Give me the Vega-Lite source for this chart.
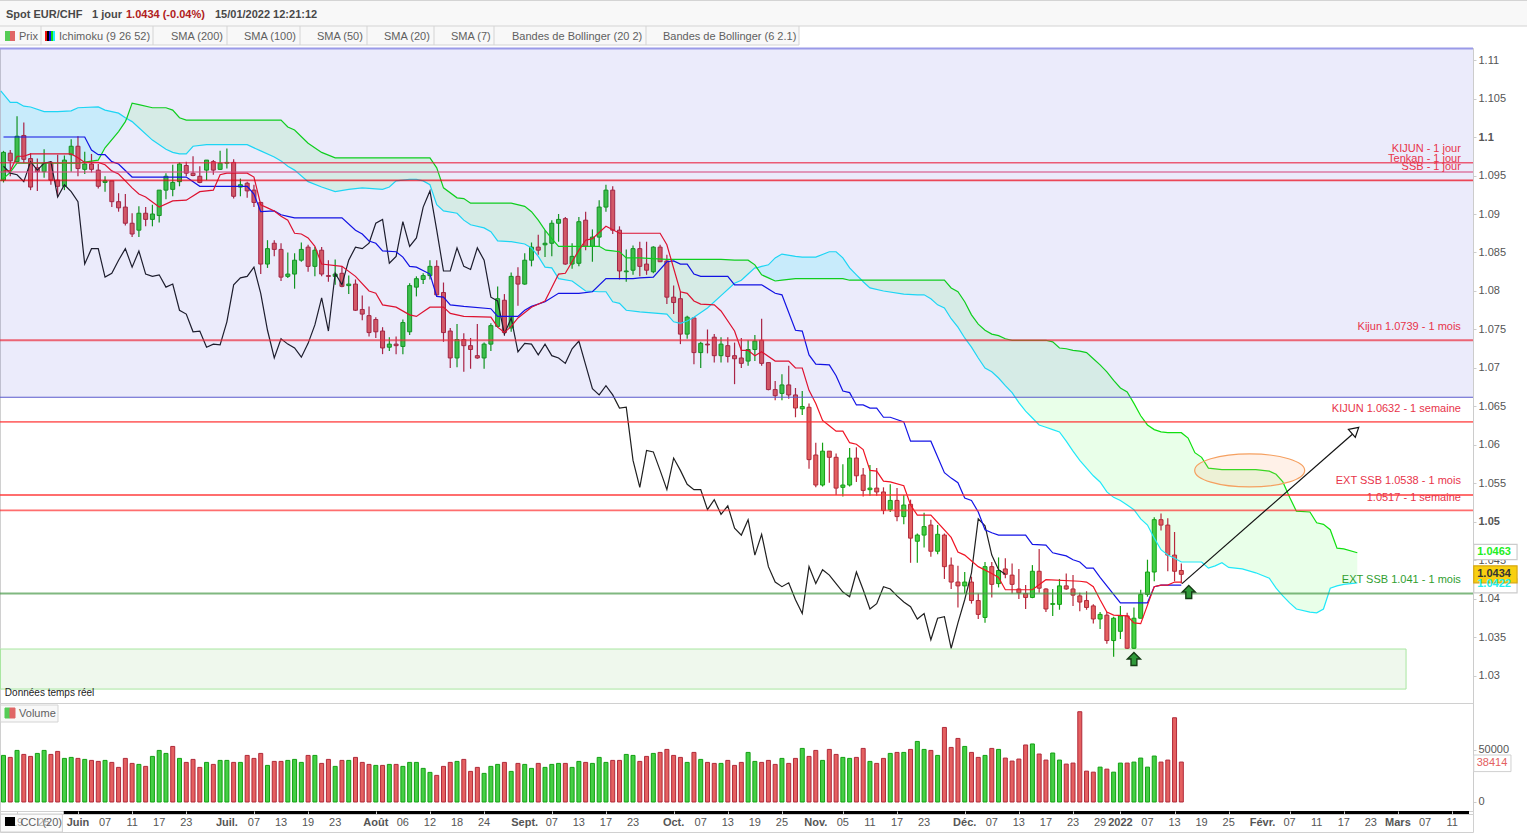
{
"$schema":"https://vega.github.io/schema/vega-lite/v6.json",
"background":"white",
"padding":{"left":-3,"top":0,"right":0,"bottom":0},
"autosize":{"type":"pad"},
"spacing":0,
"bounds":"flush",
"config":{"view":{"stroke":"#d0d0d0"},"font":"Liberation Sans","scale":{"continuousPadding":0}},
"datasets":{
"candles":[
{"bar":0,"open":1.0944,"high":1.0982,"low":1.0941,"close":1.098,"volume":44800,"volDir":"u","chikou":1.0962},
{"bar":1,"open":1.0979,"high":1.0983,"low":1.0949,"close":1.0969,"volume":42880,"volDir":"d","chikou":1.0953},
{"bar":2,"open":1.0968,"high":1.1027,"low":1.0967,"close":1.1001,"volume":49600,"volDir":"u","chikou":1.0951},
{"bar":3,"open":1.1002,"high":1.1019,"low":1.0966,"close":1.0971,"volume":45760,"volDir":"d","chikou":1.0942},
{"bar":4,"open":1.0972,"high":1.0979,"low":1.0931,"close":1.0935,"volume":43840,"volDir":"d","chikou":1.0968},
{"bar":5,"open":1.096,"high":1.0972,"low":1.093,"close":1.0955,"volume":46720,"volDir":"u","chikou":1.0957},
{"bar":6,"open":1.0955,"high":1.0984,"low":1.0947,"close":1.0966,"volume":49600,"volDir":"u","chikou":1.0966},
{"bar":7,"open":1.0967,"high":1.0969,"low":1.0938,"close":1.0944,"volume":45760,"volDir":"d","chikou":1.0968},
{"bar":8,"open":1.0944,"high":1.0977,"low":1.0922,"close":1.0936,"volume":48640,"volDir":"d","chikou":1.0922},
{"bar":9,"open":1.0936,"high":1.0976,"low":1.0931,"close":1.097,"volume":41920,"volDir":"u","chikou":1.0938},
{"bar":10,"open":1.0977,"high":1.0997,"low":1.0955,"close":1.0988,"volume":42880,"volDir":"u","chikou":1.0929},
{"bar":11,"open":1.0988,"high":1.1001,"low":1.0949,"close":1.0959,"volume":41920,"volDir":"d","chikou":1.0916},
{"bar":12,"open":1.0958,"high":1.0981,"low":1.0952,"close":1.0965,"volume":40960,"volDir":"u","chikou":1.0835},
{"bar":13,"open":1.0965,"high":1.0978,"low":1.0954,"close":1.0958,"volume":40000,"volDir":"d","chikou":1.0855},
{"bar":14,"open":1.0957,"high":1.0965,"low":1.0933,"close":1.0936,"volume":39040,"volDir":"d","chikou":1.0855},
{"bar":15,"open":1.0941,"high":1.0949,"low":1.0929,"close":1.0943,"volume":40000,"volDir":"u","chikou":1.0818},
{"bar":16,"open":1.0943,"high":1.0943,"low":1.0909,"close":1.0916,"volume":38080,"volDir":"d","chikou":1.0823},
{"bar":17,"open":1.0916,"high":1.0927,"low":1.0903,"close":1.0908,"volume":33280,"volDir":"d","chikou":1.084},
{"bar":18,"open":1.0909,"high":1.0926,"low":1.0885,"close":1.0888,"volume":41920,"volDir":"d","chikou":1.0855},
{"bar":19,"open":1.0888,"high":1.0901,"low":1.087,"close":1.0874,"volume":37120,"volDir":"d","chikou":1.0831},
{"bar":20,"open":1.0879,"high":1.091,"low":1.087,"close":1.0901,"volume":36160,"volDir":"u","chikou":1.0852},
{"bar":21,"open":1.0901,"high":1.0909,"low":1.0884,"close":1.0893,"volume":34240,"volDir":"d","chikou":1.0822},
{"bar":22,"open":1.0893,"high":1.0912,"low":1.0884,"close":1.09,"volume":43840,"volDir":"u","chikou":1.0819},
{"bar":23,"open":1.0898,"high":1.0931,"low":1.0889,"close":1.0931,"volume":49600,"volDir":"u","chikou":1.0821},
{"bar":24,"open":1.0931,"high":1.0953,"low":1.0919,"close":1.0949,"volume":46720,"volDir":"u","chikou":1.0805},
{"bar":25,"open":1.0932,"high":1.0964,"low":1.0923,"close":1.0941,"volume":53440,"volDir":"d","chikou":1.0809},
{"bar":26,"open":1.0942,"high":1.0967,"low":1.0936,"close":1.0965,"volume":41920,"volDir":"u","chikou":1.0775},
{"bar":27,"open":1.0963,"high":1.0968,"low":1.0949,"close":1.0953,"volume":38080,"volDir":"d","chikou":1.077},
{"bar":28,"open":1.0953,"high":1.0975,"low":1.0949,"close":1.095,"volume":40960,"volDir":"d","chikou":1.0747},
{"bar":29,"open":1.0949,"high":1.0962,"low":1.094,"close":1.0941,"volume":33280,"volDir":"d","chikou":1.0748},
{"bar":30,"open":1.0957,"high":1.097,"low":1.0944,"close":1.097,"volume":38080,"volDir":"u","chikou":1.0727},
{"bar":31,"open":1.0968,"high":1.097,"low":1.0951,"close":1.0957,"volume":36160,"volDir":"d","chikou":1.0731},
{"bar":32,"open":1.0958,"high":1.0982,"low":1.0957,"close":1.0966,"volume":40000,"volDir":"u","chikou":1.073},
{"bar":33,"open":1.0966,"high":1.0985,"low":1.0959,"close":1.0967,"volume":40000,"volDir":"u","chikou":1.076},
{"bar":34,"open":1.0967,"high":1.0971,"low":1.092,"close":1.0923,"volume":38080,"volDir":"d","chikou":1.0808},
{"bar":35,"open":1.0935,"high":1.0946,"low":1.0923,"close":1.0938,"volume":38080,"volDir":"u","chikou":1.0817},
{"bar":36,"open":1.094,"high":1.0942,"low":1.0921,"close":1.093,"volume":44800,"volDir":"d","chikou":1.0819},
{"bar":37,"open":1.0931,"high":1.0938,"low":1.0909,"close":1.0915,"volume":41920,"volDir":"d","chikou":1.0831},
{"bar":38,"open":1.0915,"high":1.0916,"low":1.0822,"close":1.0835,"volume":46720,"volDir":"d","chikou":1.0797},
{"bar":39,"open":1.0835,"high":1.0866,"low":1.083,"close":1.0855,"volume":35200,"volDir":"u","chikou":1.0749},
{"bar":40,"open":1.0862,"high":1.0866,"low":1.0845,"close":1.0854,"volume":39040,"volDir":"d","chikou":1.0713},
{"bar":41,"open":1.0854,"high":1.0862,"low":1.0813,"close":1.0818,"volume":39040,"volDir":"d","chikou":1.0738},
{"bar":42,"open":1.0819,"high":1.085,"low":1.0817,"close":1.0822,"volume":40000,"volDir":"u","chikou":1.0731},
{"bar":43,"open":1.0822,"high":1.0849,"low":1.0803,"close":1.084,"volume":40960,"volDir":"u","chikou":1.0726},
{"bar":44,"open":1.084,"high":1.0863,"low":1.0838,"close":1.0854,"volume":38080,"volDir":"u","chikou":1.0714},
{"bar":45,"open":1.0857,"high":1.086,"low":1.0825,"close":1.0832,"volume":44800,"volDir":"d","chikou":1.0732},
{"bar":46,"open":1.0832,"high":1.0857,"low":1.0819,"close":1.0853,"volume":44800,"volDir":"u","chikou":1.0756},
{"bar":47,"open":1.0853,"high":1.0857,"low":1.0819,"close":1.0822,"volume":37120,"volDir":"d","chikou":1.0791},
{"bar":48,"open":1.082,"high":1.084,"low":1.0812,"close":1.0819,"volume":40960,"volDir":"d","chikou":1.0748},
{"bar":49,"open":1.0819,"high":1.0841,"low":1.0808,"close":1.0822,"volume":34240,"volDir":"u","chikou":1.0823},
{"bar":50,"open":1.0823,"high":1.0832,"low":1.0805,"close":1.0806,"volume":40000,"volDir":"d","chikou":1.0808},
{"bar":51,"open":1.0807,"high":1.082,"low":1.0796,"close":1.0809,"volume":40000,"volDir":"u","chikou":1.084},
{"bar":52,"open":1.0809,"high":1.0815,"low":1.0774,"close":1.0775,"volume":42880,"volDir":"d","chikou":1.0857},
{"bar":53,"open":1.0776,"high":1.0794,"low":1.0762,"close":1.077,"volume":38080,"volDir":"d","chikou":1.0855},
{"bar":54,"open":1.0768,"high":1.078,"low":1.0741,"close":1.0746,"volume":36160,"volDir":"d","chikou":1.0862},
{"bar":55,"open":1.0763,"high":1.0766,"low":1.0739,"close":1.0747,"volume":35200,"volDir":"u","chikou":1.0888},
{"bar":56,"open":1.0748,"high":1.0753,"low":1.0718,"close":1.0726,"volume":35200,"volDir":"d","chikou":1.0893},
{"bar":57,"open":1.0727,"high":1.074,"low":1.0722,"close":1.0731,"volume":36160,"volDir":"u","chikou":1.0836},
{"bar":58,"open":1.0731,"high":1.0741,"low":1.0718,"close":1.0729,"volume":36160,"volDir":"d","chikou":1.0845},
{"bar":59,"open":1.0728,"high":1.0763,"low":1.0718,"close":1.0759,"volume":34240,"volDir":"u","chikou":1.089},
{"bar":60,"open":1.0747,"high":1.081,"low":1.0743,"close":1.0807,"volume":38080,"volDir":"u","chikou":1.0858},
{"bar":61,"open":1.0805,"high":1.0819,"low":1.0793,"close":1.0816,"volume":38080,"volDir":"u","chikou":1.0869},
{"bar":62,"open":1.0815,"high":1.0823,"low":1.0809,"close":1.082,"volume":32320,"volDir":"u","chikou":1.0909},
{"bar":63,"open":1.082,"high":1.084,"low":1.0815,"close":1.0832,"volume":28480,"volDir":"u","chikou":1.093},
{"bar":64,"open":1.0832,"high":1.084,"low":1.0793,"close":1.0795,"volume":25600,"volDir":"d","chikou":1.0879},
{"bar":65,"open":1.0798,"high":1.0811,"low":1.0734,"close":1.0746,"volume":34240,"volDir":"d","chikou":1.0826},
{"bar":66,"open":1.0748,"high":1.0752,"low":1.07,"close":1.0713,"volume":38080,"volDir":"d","chikou":1.0826},
{"bar":67,"open":1.0713,"high":1.0757,"low":1.0701,"close":1.0737,"volume":39040,"volDir":"u","chikou":1.0856},
{"bar":68,"open":1.0737,"high":1.0745,"low":1.0695,"close":1.0729,"volume":40960,"volDir":"d","chikou":1.0832},
{"bar":69,"open":1.0729,"high":1.0739,"low":1.0699,"close":1.0724,"volume":29440,"volDir":"d","chikou":1.0828},
{"bar":70,"open":1.0716,"high":1.0757,"low":1.0712,"close":1.0713,"volume":33280,"volDir":"d","chikou":1.0856},
{"bar":71,"open":1.0713,"high":1.0733,"low":1.0699,"close":1.0731,"volume":27520,"volDir":"u","chikou":1.084},
{"bar":72,"open":1.0731,"high":1.0758,"low":1.0722,"close":1.0755,"volume":34240,"volDir":"u","chikou":1.0792},
{"bar":73,"open":1.0754,"high":1.0806,"low":1.0753,"close":1.079,"volume":36160,"volDir":"u","chikou":1.0787},
{"bar":74,"open":1.0788,"high":1.0796,"low":1.0742,"close":1.0746,"volume":38080,"volDir":"d","chikou":1.0744},
{"bar":75,"open":1.0752,"high":1.0824,"low":1.0747,"close":1.0819,"volume":29440,"volDir":"u","chikou":1.0765},
{"bar":76,"open":1.0819,"high":1.0831,"low":1.0781,"close":1.0809,"volume":37120,"volDir":"d","chikou":1.0721},
{"bar":77,"open":1.0809,"high":1.0849,"low":1.0808,"close":1.084,"volume":36160,"volDir":"u","chikou":1.0732},
{"bar":78,"open":1.084,"high":1.0863,"low":1.0832,"close":1.0857,"volume":32320,"volDir":"u","chikou":1.0731},
{"bar":79,"open":1.0857,"high":1.0873,"low":1.0847,"close":1.0853,"volume":37120,"volDir":"d","chikou":1.0717},
{"bar":80,"open":1.086,"high":1.0879,"low":1.0844,"close":1.0862,"volume":33280,"volDir":"u","chikou":1.0731},
{"bar":81,"open":1.0862,"high":1.0892,"low":1.0845,"close":1.0888,"volume":36160,"volDir":"u","chikou":1.0716},
{"bar":82,"open":1.0888,"high":1.09,"low":1.0864,"close":1.0893,"volume":37120,"volDir":"u","chikou":1.0713},
{"bar":83,"open":1.0894,"high":1.0896,"low":1.0834,"close":1.0835,"volume":37120,"volDir":"d","chikou":1.0706},
{"bar":84,"open":1.0835,"high":1.0862,"low":1.0829,"close":1.0845,"volume":33280,"volDir":"u","chikou":1.0725},
{"bar":85,"open":1.0836,"high":1.0896,"low":1.0832,"close":1.089,"volume":39040,"volDir":"u","chikou":1.0735},
{"bar":86,"open":1.0892,"high":1.0903,"low":1.0853,"close":1.0858,"volume":38080,"volDir":"d","chikou":1.0704},
{"bar":87,"open":1.0858,"high":1.088,"low":1.0838,"close":1.087,"volume":37120,"volDir":"u","chikou":1.0673},
{"bar":88,"open":1.087,"high":1.0918,"low":1.0858,"close":1.0909,"volume":42880,"volDir":"u","chikou":1.0665},
{"bar":89,"open":1.0909,"high":1.0938,"low":1.0903,"close":1.0931,"volume":38080,"volDir":"u","chikou":1.0677},
{"bar":90,"open":1.0931,"high":1.0936,"low":1.0874,"close":1.0879,"volume":40000,"volDir":"d","chikou":1.0665},
{"bar":91,"open":1.0879,"high":1.0884,"low":1.0815,"close":1.0826,"volume":40000,"volDir":"d","chikou":1.0648},
{"bar":92,"open":1.0825,"high":1.0854,"low":1.0812,"close":1.0826,"volume":45760,"volDir":"u","chikou":1.0649},
{"bar":93,"open":1.0827,"high":1.0859,"low":1.0821,"close":1.0855,"volume":44800,"volDir":"u","chikou":1.058},
{"bar":94,"open":1.0855,"high":1.0864,"low":1.0819,"close":1.0832,"volume":39040,"volDir":"d","chikou":1.0545},
{"bar":95,"open":1.0835,"high":1.0864,"low":1.0821,"close":1.0827,"volume":43840,"volDir":"d","chikou":1.0593},
{"bar":96,"open":1.0825,"high":1.0858,"low":1.0823,"close":1.0857,"volume":46720,"volDir":"u","chikou":1.0591},
{"bar":97,"open":1.0857,"high":1.086,"low":1.0838,"close":1.0838,"volume":47680,"volDir":"d","chikou":1.0567},
{"bar":98,"open":1.0839,"high":1.0847,"low":1.0783,"close":1.0792,"volume":50560,"volDir":"d","chikou":1.0542},
{"bar":99,"open":1.0792,"high":1.0807,"low":1.077,"close":1.0785,"volume":44800,"volDir":"d","chikou":1.0583},
{"bar":100,"open":1.079,"high":1.0799,"low":1.0731,"close":1.0744,"volume":42880,"volDir":"d","chikou":1.0567},
{"bar":101,"open":1.0744,"high":1.0768,"low":1.0738,"close":1.0766,"volume":38080,"volDir":"u","chikou":1.0549},
{"bar":102,"open":1.0765,"high":1.0766,"low":1.0705,"close":1.072,"volume":47680,"volDir":"d","chikou":1.0542},
{"bar":103,"open":1.072,"high":1.0734,"low":1.07,"close":1.0732,"volume":40960,"volDir":"u","chikou":1.0542},
{"bar":104,"open":1.0731,"high":1.075,"low":1.0719,"close":1.073,"volume":38080,"volDir":"d","chikou":1.0516},
{"bar":105,"open":1.074,"high":1.0744,"low":1.0707,"close":1.0716,"volume":37120,"volDir":"d","chikou":1.0529},
{"bar":106,"open":1.0716,"high":1.074,"low":1.0707,"close":1.0731,"volume":37120,"volDir":"u","chikou":1.051},
{"bar":107,"open":1.0729,"high":1.074,"low":1.0707,"close":1.0715,"volume":40000,"volDir":"d","chikou":1.0521},
{"bar":108,"open":1.0716,"high":1.0733,"low":1.0679,"close":1.0712,"volume":35200,"volDir":"d","chikou":1.0492},
{"bar":109,"open":1.0713,"high":1.0739,"low":1.07,"close":1.0706,"volume":38080,"volDir":"d","chikou":1.0483},
{"bar":110,"open":1.0709,"high":1.0736,"low":1.0703,"close":1.0724,"volume":47680,"volDir":"u","chikou":1.0503},
{"bar":111,"open":1.0724,"high":1.0743,"low":1.0709,"close":1.0735,"volume":39040,"volDir":"u","chikou":1.0457},
{"bar":112,"open":1.0736,"high":1.0764,"low":1.0703,"close":1.0706,"volume":38080,"volDir":"d","chikou":1.0484},
{"bar":113,"open":1.0707,"high":1.0707,"low":1.0671,"close":1.0672,"volume":40000,"volDir":"d","chikou":1.0442},
{"bar":114,"open":1.0672,"high":1.0683,"low":1.0658,"close":1.0664,"volume":36160,"volDir":"d","chikou":1.0422},
{"bar":115,"open":1.0667,"high":1.0692,"low":1.0658,"close":1.0678,"volume":41920,"volDir":"u","chikou":1.0416},
{"bar":116,"open":1.0678,"high":1.0703,"low":1.066,"close":1.0665,"volume":37120,"volDir":"d","chikou":1.0421},
{"bar":117,"open":1.0665,"high":1.0674,"low":1.0636,"close":1.0648,"volume":41920,"volDir":"d","chikou":1.0399},
{"bar":118,"open":1.0647,"high":1.067,"low":1.0639,"close":1.065,"volume":51520,"volDir":"u","chikou":1.0381},
{"bar":119,"open":1.0649,"high":1.0654,"low":1.0569,"close":1.0581,"volume":43840,"volDir":"d","chikou":1.0442},
{"bar":120,"open":1.0587,"high":1.0603,"low":1.0545,"close":1.0548,"volume":49600,"volDir":"d","chikou":1.042},
{"bar":121,"open":1.0548,"high":1.0603,"low":1.0546,"close":1.0592,"volume":40000,"volDir":"u","chikou":1.0438},
{"bar":122,"open":1.0592,"high":1.0592,"low":1.0551,"close":1.0584,"volume":50560,"volDir":"d","chikou":1.0431},
{"bar":123,"open":1.0584,"high":1.0589,"low":1.0535,"close":1.0544,"volume":45760,"volDir":"d","chikou":1.042},
{"bar":124,"open":1.0545,"high":1.0575,"low":1.0533,"close":1.0548,"volume":42880,"volDir":"u","chikou":1.0409},
{"bar":125,"open":1.0548,"high":1.0596,"low":1.0546,"close":1.0583,"volume":41920,"volDir":"u","chikou":1.0403},
{"bar":126,"open":1.0583,"high":1.0597,"low":1.0552,"close":1.056,"volume":42880,"volDir":"d","chikou":1.0435},
{"bar":127,"open":1.0561,"high":1.057,"low":1.0533,"close":1.0541,"volume":51520,"volDir":"d","chikou":1.0412},
{"bar":128,"open":1.0542,"high":1.0574,"low":1.0534,"close":1.0544,"volume":39040,"volDir":"u","chikou":1.0387},
{"bar":129,"open":1.0544,"high":1.057,"low":1.0534,"close":1.0539,"volume":37120,"volDir":"d","chikou":1.0394},
{"bar":130,"open":1.0539,"high":1.0545,"low":1.051,"close":1.0515,"volume":41920,"volDir":"d","chikou":1.0416},
{"bar":131,"open":1.0516,"high":1.0549,"low":1.0513,"close":1.0528,"volume":46720,"volDir":"u","chikou":1.0413},
{"bar":132,"open":1.0528,"high":1.0544,"low":1.0501,"close":1.0507,"volume":47680,"volDir":"d","chikou":1.0404},
{"bar":133,"open":1.0507,"high":1.0535,"low":1.0497,"close":1.0522,"volume":47680,"volDir":"u","chikou":1.0396},
{"bar":134,"open":1.0523,"high":1.0529,"low":1.0447,"close":1.0479,"volume":50560,"volDir":"d","chikou":1.039},
{"bar":135,"open":1.0475,"high":1.0485,"low":1.0447,"close":1.0483,"volume":58240,"volDir":"u","chikou":1.0374},
{"bar":136,"open":1.0483,"high":1.0512,"low":1.0467,"close":1.0494,"volume":50560,"volDir":"u","chikou":1.0381},
{"bar":137,"open":1.0496,"high":1.0503,"low":1.0455,"close":1.0462,"volume":49600,"volDir":"d","chikou":1.0347},
{"bar":138,"open":1.0462,"high":1.0496,"low":1.0458,"close":1.0484,"volume":44800,"volDir":"u","chikou":1.0375},
{"bar":139,"open":1.0483,"high":1.0485,"low":1.0426,"close":1.0442,"volume":71680,"volDir":"d","chikou":1.0377},
{"bar":140,"open":1.0444,"high":1.0454,"low":1.0413,"close":1.0422,"volume":52480,"volDir":"d","chikou":1.0336},
{"bar":141,"open":1.0422,"high":1.0443,"low":1.0389,"close":1.0417,"volume":61120,"volDir":"d","chikou":1.0369},
{"bar":142,"open":1.0417,"high":1.0435,"low":1.0407,"close":1.0422,"volume":53440,"volDir":"u","chikou":1.0399},
{"bar":143,"open":1.0422,"high":1.0429,"low":1.0394,"close":1.0398,"volume":47680,"volDir":"d","chikou":1.0434},
{"bar":144,"open":1.0398,"high":1.0407,"low":1.0374,"close":1.038,"volume":42880,"volDir":"d","chikou":1.0504},
{"bar":145,"open":1.0376,"high":1.0448,"low":1.0369,"close":1.0442,"volume":44800,"volDir":"u","chikou":1.0495},
{"bar":146,"open":1.0442,"high":1.0448,"low":1.0402,"close":1.0419,"volume":51520,"volDir":"d","chikou":1.0457},
{"bar":147,"open":1.042,"high":1.0454,"low":1.0415,"close":1.0437,"volume":50560,"volDir":"u","chikou":1.0438},
{"bar":148,"open":1.0439,"high":1.0453,"low":1.0427,"close":1.0432,"volume":42240,"volDir":"d","chikou":1.0432},
{"bar":149,"open":1.0431,"high":1.0446,"low":1.0407,"close":1.0419,"volume":39350,"volDir":"d"},
{"bar":150,"open":1.0413,"high":1.0439,"low":1.04,"close":1.0408,"volume":41290,"volDir":"d"},
{"bar":151,"open":1.0407,"high":1.0418,"low":1.0387,"close":1.0402,"volume":54840,"volDir":"d"},
{"bar":152,"open":1.0402,"high":1.0444,"low":1.0401,"close":1.0436,"volume":55800,"volDir":"u"},
{"bar":153,"open":1.0436,"high":1.0465,"low":1.0408,"close":1.0414,"volume":46130,"volDir":"d"},
{"bar":154,"open":1.0413,"high":1.0414,"low":1.0383,"close":1.0387,"volume":40320,"volDir":"d"},
{"bar":155,"open":1.0393,"high":1.0413,"low":1.0378,"close":1.0394,"volume":47090,"volDir":"u"},
{"bar":156,"open":1.0393,"high":1.0426,"low":1.0386,"close":1.0417,"volume":40320,"volDir":"u"},
{"bar":157,"open":1.0417,"high":1.0433,"low":1.0412,"close":1.0413,"volume":36450,"volDir":"d"},
{"bar":158,"open":1.0413,"high":1.0431,"low":1.0391,"close":1.0405,"volume":37410,"volDir":"d"},
{"bar":159,"open":1.0404,"high":1.0408,"low":1.0384,"close":1.0396,"volume":86800,"volDir":"d"},
{"bar":160,"open":1.0398,"high":1.041,"low":1.0386,"close":1.0389,"volume":29680,"volDir":"d"},
{"bar":161,"open":1.0391,"high":1.0393,"low":1.0368,"close":1.0374,"volume":28710,"volDir":"d"},
{"bar":162,"open":1.0374,"high":1.0383,"low":1.0361,"close":1.038,"volume":33530,"volDir":"u"},
{"bar":163,"open":1.0379,"high":1.0383,"low":1.0342,"close":1.0346,"volume":31610,"volDir":"d"},
{"bar":164,"open":1.0346,"high":1.0377,"low":1.0325,"close":1.0375,"volume":28710,"volDir":"u"},
{"bar":165,"open":1.0358,"high":1.0391,"low":1.0348,"close":1.0378,"volume":37410,"volDir":"u"},
{"bar":166,"open":1.0378,"high":1.0382,"low":1.0335,"close":1.0336,"volume":37410,"volDir":"d"},
{"bar":167,"open":1.0336,"high":1.0389,"low":1.0335,"close":1.0375,"volume":38380,"volDir":"u"},
{"bar":168,"open":1.0375,"high":1.0412,"low":1.0375,"close":1.0406,"volume":42240,"volDir":"u"},
{"bar":169,"open":1.0406,"high":1.0451,"low":1.0403,"close":1.0435,"volume":33530,"volDir":"u"},
{"bar":170,"open":1.0435,"high":1.0506,"low":1.0423,"close":1.0503,"volume":44190,"volDir":"u"},
{"bar":171,"open":1.0503,"high":1.0511,"low":1.0489,"close":1.0496,"volume":38380,"volDir":"d"},
{"bar":172,"open":1.0496,"high":1.0505,"low":1.0436,"close":1.0457,"volume":40320,"volDir":"d"},
{"bar":173,"open":1.0457,"high":1.0487,"low":1.0423,"close":1.0436,"volume":81000,"volDir":"d"},
{"bar":174,"open":1.0437,"high":1.0446,"low":1.042,"close":1.0432,"volume":38414,"volDir":"d"}
],
"kumo":[
{"bar":-0.4,"ssa":1.106,"ssb":1.0943},{"bar":1,"ssa":1.1045,"ssb":1.0954},{"bar":2,"ssa":1.1045,"ssb":1.0966},{"bar":3,"ssa":1.104,"ssb":1.0966},{"bar":4,"ssa":1.1039,"ssb":1.0966},{"bar":6,"ssa":1.1033,"ssb":1.0966},{"bar":8,"ssa":1.1033,"ssb":1.0966},{"bar":10,"ssa":1.1034,"ssb":1.0966},{"bar":11,"ssa":1.1038,"ssb":1.0966},{"bar":14,"ssa":1.1039,"ssb":1.097},{"bar":15,"ssa":1.1035,"ssb":1.0986},{"bar":17,"ssa":1.1031,"ssb":1.1007},{"bar":18,"ssa":1.1025,"ssb":1.102},{"bar":18.2,"ssa":1.1024,"ssb":1.1024},{"bar":19,"ssa":1.102,"ssb":1.1044},{"bar":20,"ssa":1.1012,"ssb":1.1042},{"bar":22,"ssa":1.0996,"ssb":1.1038},{"bar":24,"ssa":1.0984,"ssb":1.1038},{"bar":25,"ssa":1.098,"ssb":1.1035},{"bar":26,"ssa":1.0978,"ssb":1.1025},{"bar":27,"ssa":1.0978,"ssb":1.1022},{"bar":28,"ssa":1.0988,"ssb":1.1022},{"bar":30,"ssa":1.099,"ssb":1.1022},{"bar":36,"ssa":1.099,"ssb":1.1022},{"bar":38,"ssa":1.0982,"ssb":1.1022},{"bar":40,"ssa":1.0974,"ssb":1.1022},{"bar":41,"ssa":1.0969,"ssb":1.1022},{"bar":42,"ssa":1.0962,"ssb":1.1013},{"bar":43,"ssa":1.0957,"ssb":1.1009},{"bar":45,"ssa":1.0942,"ssb":1.0992},{"bar":47,"ssa":1.0935,"ssb":1.098},{"bar":49,"ssa":1.0929,"ssb":1.0973},{"bar":51,"ssa":1.0932,"ssb":1.0973},{"bar":53,"ssa":1.0934,"ssb":1.0973},{"bar":56,"ssa":1.0932,"ssb":1.0973},{"bar":57,"ssa":1.0935,"ssb":1.0973},{"bar":58,"ssa":1.0943,"ssb":1.0973},{"bar":60,"ssa":1.0945,"ssb":1.0973},{"bar":61,"ssa":1.0945,"ssb":1.0973},{"bar":62,"ssa":1.0943,"ssb":1.0973},{"bar":63,"ssa":1.0938,"ssb":1.0973},{"bar":64,"ssa":1.0912,"ssb":1.096},{"bar":65,"ssa":1.0904,"ssb":1.0934},{"bar":67,"ssa":1.0901,"ssb":1.0921},{"bar":68,"ssa":1.0892,"ssb":1.092},{"bar":69,"ssa":1.0886,"ssb":1.0914},{"bar":71,"ssa":1.0882,"ssb":1.0914},{"bar":72,"ssa":1.0877,"ssb":1.0914},{"bar":73,"ssa":1.0865,"ssb":1.0914},{"bar":75,"ssa":1.0864,"ssb":1.0914},{"bar":77,"ssa":1.0861,"ssb":1.091},{"bar":78,"ssa":1.0856,"ssb":1.0903},{"bar":79,"ssa":1.0845,"ssb":1.0892},{"bar":80,"ssa":1.0831,"ssb":1.0879},{"bar":81,"ssa":1.083,"ssb":1.0868},{"bar":82,"ssa":1.0816,"ssb":1.0858},{"bar":84,"ssa":1.0813,"ssb":1.0858},{"bar":86,"ssa":1.08,"ssb":1.0858},{"bar":88,"ssa":1.0799,"ssb":1.0858},{"bar":89,"ssa":1.0799,"ssb":1.0853},{"bar":90,"ssa":1.0786,"ssb":1.0852},{"bar":91,"ssa":1.0784,"ssb":1.0851},{"bar":92,"ssa":1.0775,"ssb":1.0843},{"bar":94,"ssa":1.0773,"ssb":1.0843},{"bar":98,"ssa":1.077,"ssb":1.0841},{"bar":99,"ssa":1.076,"ssb":1.0841},{"bar":100,"ssa":1.0758,"ssb":1.0841},{"bar":101,"ssa":1.0761,"ssb":1.0841},{"bar":102,"ssa":1.0766,"ssb":1.0841},{"bar":104,"ssa":1.0778,"ssb":1.0841},{"bar":106,"ssa":1.0794,"ssb":1.0841},{"bar":108,"ssa":1.081,"ssb":1.084},{"bar":109,"ssa":1.0814,"ssb":1.084},{"bar":110,"ssa":1.0822,"ssb":1.084},{"bar":111,"ssa":1.083,"ssb":1.0834},{"bar":111.3,"ssa":1.083,"ssb":1.083},{"bar":112,"ssa":1.0832,"ssb":1.0821},{"bar":113,"ssa":1.0834,"ssb":1.0817},{"bar":114,"ssa":1.0843,"ssb":1.0813},{"bar":115,"ssa":1.0848,"ssb":1.0814},{"bar":117,"ssa":1.0845,"ssb":1.0816},{"bar":118,"ssa":1.0844,"ssb":1.0816},{"bar":120,"ssa":1.0844,"ssb":1.0816},{"bar":122,"ssa":1.0851,"ssb":1.0816},{"bar":123,"ssa":1.0851,"ssb":1.0816},{"bar":124,"ssa":1.0843,"ssb":1.0816},{"bar":125,"ssa":1.083,"ssb":1.0814},{"bar":126,"ssa":1.0821,"ssb":1.0814},{"bar":126.8,"ssa":1.0814,"ssb":1.0814},{"bar":127,"ssa":1.0812,"ssb":1.0814},{"bar":128,"ssa":1.0804,"ssb":1.0814},{"bar":130,"ssa":1.08,"ssb":1.0814},{"bar":133,"ssa":1.0796,"ssb":1.0814},{"bar":135,"ssa":1.0795,"ssb":1.0814},{"bar":136,"ssa":1.0795,"ssb":1.0814},{"bar":137,"ssa":1.079,"ssb":1.0814},{"bar":138,"ssa":1.0782,"ssb":1.0814},{"bar":139,"ssa":1.0778,"ssb":1.0814},{"bar":140,"ssa":1.0764,"ssb":1.0804},{"bar":141,"ssa":1.0753,"ssb":1.0799},{"bar":142,"ssa":1.0739,"ssb":1.0786},{"bar":143,"ssa":1.0727,"ssb":1.0769},{"bar":144,"ssa":1.0713,"ssb":1.0757},{"bar":145,"ssa":1.07,"ssb":1.0749},{"bar":146,"ssa":1.0695,"ssb":1.0744},{"bar":147,"ssa":1.0687,"ssb":1.0742},{"bar":148,"ssa":1.0677,"ssb":1.0738},{"bar":149,"ssa":1.0668,"ssb":1.0736},{"bar":150,"ssa":1.0655,"ssb":1.0736},{"bar":151,"ssa":1.0644,"ssb":1.0736},{"bar":152,"ssa":1.0635,"ssb":1.0736},{"bar":153,"ssa":1.0626,"ssb":1.0736},{"bar":154,"ssa":1.0623,"ssb":1.0736},{"bar":155,"ssa":1.062,"ssb":1.0734},{"bar":156,"ssa":1.0617,"ssb":1.0726},{"bar":157,"ssa":1.0605,"ssb":1.0725},{"bar":158,"ssa":1.0592,"ssb":1.0723},{"bar":159,"ssa":1.058,"ssb":1.0722},{"bar":160,"ssa":1.057,"ssb":1.072},{"bar":161,"ssa":1.056,"ssb":1.0712},{"bar":162,"ssa":1.0552,"ssb":1.0704},{"bar":163,"ssa":1.0539,"ssb":1.0695},{"bar":164,"ssa":1.0532,"ssb":1.0684},{"bar":165,"ssa":1.0528,"ssb":1.0674},{"bar":166,"ssa":1.0522,"ssb":1.0669},{"bar":167,"ssa":1.0516,"ssb":1.0654},{"bar":168,"ssa":1.0504,"ssb":1.0638},{"bar":169,"ssa":1.0496,"ssb":1.0626},{"bar":170,"ssa":1.0479,"ssb":1.062},{"bar":171,"ssa":1.0464,"ssb":1.0617},{"bar":172,"ssa":1.0457,"ssb":1.0616},{"bar":173,"ssa":1.0453,"ssb":1.0616},{"bar":174,"ssa":1.0448,"ssb":1.0616},{"bar":175,"ssa":1.0448,"ssb":1.0609},{"bar":176,"ssa":1.0448,"ssb":1.059},{"bar":177,"ssa":1.0448,"ssb":1.0584},{"bar":178,"ssa":1.044,"ssb":1.057},{"bar":179,"ssa":1.0443,"ssb":1.0569},{"bar":180,"ssa":1.0447,"ssb":1.0568},{"bar":181,"ssa":1.0441,"ssb":1.0568},{"bar":182,"ssa":1.044,"ssb":1.0568},{"bar":183,"ssa":1.0439,"ssb":1.0568},{"bar":185,"ssa":1.0434,"ssb":1.0568},{"bar":187,"ssa":1.0427,"ssb":1.0566},{"bar":188,"ssa":1.0414,"ssb":1.0562},{"bar":189,"ssa":1.0404,"ssb":1.0552},{"bar":190,"ssa":1.0395,"ssb":1.0532},{"bar":191,"ssa":1.0387,"ssb":1.0514},{"bar":193,"ssa":1.0383,"ssb":1.0513},{"bar":194,"ssa":1.0382,"ssb":1.0499},{"bar":195,"ssa":1.0387,"ssb":1.0497},{"bar":196,"ssa":1.0414,"ssb":1.049},{"bar":197,"ssa":1.0417,"ssb":1.0466},{"bar":198,"ssa":1.0419,"ssb":1.0465},{"bar":200,"ssa":1.0421,"ssb":1.046}
],
"tenkan":[
{"bar":0,"price":1.0956},{"bar":1,"price":1.0956},{"bar":2,"price":1.0975},{"bar":3,"price":1.0975},{"bar":4,"price":1.0978},{"bar":10,"price":1.0978},{"bar":11,"price":1.0973},{"bar":12,"price":1.0967},{"bar":14,"price":1.0967},{"bar":15,"price":1.0964},{"bar":16,"price":1.0956},{"bar":17,"price":1.0952},{"bar":18,"price":1.0943},{"bar":19,"price":1.0934},{"bar":20,"price":1.0926},{"bar":21,"price":1.0922},{"bar":23,"price":1.0909},{"bar":25,"price":1.0917},{"bar":27,"price":1.0918},{"bar":29,"price":1.0929},{"bar":31,"price":1.0931},{"bar":32,"price":1.0951},{"bar":33,"price":1.0953},{"bar":36,"price":1.0953},{"bar":37,"price":1.0948},{"bar":38,"price":1.0912},{"bar":39,"price":1.0908},{"bar":40,"price":1.0904},{"bar":41,"price":1.0897},{"bar":42,"price":1.0892},{"bar":43,"price":1.0875},{"bar":44,"price":1.0874},{"bar":45,"price":1.0869},{"bar":46,"price":1.0858},{"bar":47,"price":1.0835},{"bar":50,"price":1.0832},{"bar":52,"price":1.0819},{"bar":54,"price":1.08},{"bar":55,"price":1.0797},{"bar":56,"price":1.0782},{"bar":58,"price":1.0779},{"bar":60,"price":1.0769},{"bar":61,"price":1.0767},{"bar":62,"price":1.0773},{"bar":63,"price":1.0779},{"bar":65,"price":1.0779},{"bar":66,"price":1.0771},{"bar":68,"price":1.0767},{"bar":72,"price":1.0766},{"bar":73,"price":1.0753},{"bar":74,"price":1.0746},{"bar":75,"price":1.0754},{"bar":76,"price":1.0765},{"bar":78,"price":1.0779},{"bar":80,"price":1.0787},{"bar":82,"price":1.0822},{"bar":83,"price":1.0823},{"bar":85,"price":1.0853},{"bar":86,"price":1.0866},{"bar":87,"price":1.0868},{"bar":89,"price":1.0884},{"bar":91,"price":1.0875},{"bar":97,"price":1.0875},{"bar":98,"price":1.086},{"bar":100,"price":1.0799},{"bar":101,"price":1.0797},{"bar":102,"price":1.0787},{"bar":103,"price":1.0783},{"bar":105,"price":1.0782},{"bar":106,"price":1.0774},{"bar":108,"price":1.0748},{"bar":109,"price":1.0723},{"bar":110,"price":1.0723},{"bar":111,"price":1.0716},{"bar":112,"price":1.0721},{"bar":114,"price":1.0709},{"bar":116,"price":1.0709},{"bar":117,"price":1.07},{"bar":118,"price":1.07},{"bar":119,"price":1.0671},{"bar":120,"price":1.0654},{"bar":121,"price":1.0632},{"bar":122,"price":1.0625},{"bar":123,"price":1.0618},{"bar":124,"price":1.0618},{"bar":125,"price":1.0603},{"bar":126,"price":1.0601},{"bar":127,"price":1.0594},{"bar":128,"price":1.0567},{"bar":129,"price":1.0566},{"bar":130,"price":1.0553},{"bar":131,"price":1.0552},{"bar":133,"price":1.0547},{"bar":134,"price":1.0522},{"bar":135,"price":1.0509},{"bar":137,"price":1.0509},{"bar":140,"price":1.048},{"bar":141,"price":1.0461},{"bar":142,"price":1.0457},{"bar":144,"price":1.0442},{"bar":146,"price":1.0433},{"bar":147,"price":1.0428},{"bar":148,"price":1.0412},{"bar":152,"price":1.0412},{"bar":154,"price":1.0425},{"bar":159,"price":1.0423},{"bar":160,"price":1.0422},{"bar":161,"price":1.0416},{"bar":162,"price":1.0399},{"bar":163,"price":1.0383},{"bar":164,"price":1.0379},{"bar":166,"price":1.0378},{"bar":167,"price":1.0369},{"bar":168,"price":1.0368},{"bar":170,"price":1.0416},{"bar":171,"price":1.0418},{"bar":172,"price":1.0418},{"bar":173,"price":1.0422},{"bar":174,"price":1.0422}
],
"kijun":[
{"bar":0,"price":1.1},{"bar":12,"price":1.1},{"bar":13,"price":1.0983},{"bar":14,"price":1.0977},{"bar":15,"price":1.0977},{"bar":16,"price":1.0968},{"bar":17,"price":1.0965},{"bar":19,"price":1.0948},{"bar":27,"price":1.0948},{"bar":29,"price":1.0936},{"bar":36,"price":1.0936},{"bar":37,"price":1.0926},{"bar":38,"price":1.0903},{"bar":40,"price":1.0904},{"bar":41,"price":1.0899},{"bar":42,"price":1.0897},{"bar":43,"price":1.0895},{"bar":50,"price":1.0895},{"bar":52,"price":1.0879},{"bar":53,"price":1.0874},{"bar":54,"price":1.0865},{"bar":55,"price":1.0862},{"bar":56,"price":1.0852},{"bar":58,"price":1.0851},{"bar":59,"price":1.0844},{"bar":60,"price":1.0832},{"bar":61,"price":1.0831},{"bar":63,"price":1.0822},{"bar":64,"price":1.0793},{"bar":65,"price":1.0792},{"bar":66,"price":1.0782},{"bar":68,"price":1.078},{"bar":72,"price":1.0777},{"bar":73,"price":1.0767},{"bar":76,"price":1.0767},{"bar":77,"price":1.0775},{"bar":78,"price":1.078},{"bar":80,"price":1.0786},{"bar":82,"price":1.0797},{"bar":85,"price":1.0797},{"bar":87,"price":1.0799},{"bar":89,"price":1.0816},{"bar":93,"price":1.0816},{"bar":94,"price":1.0817},{"bar":96,"price":1.0818},{"bar":98,"price":1.0838},{"bar":99,"price":1.0839},{"bar":100,"price":1.0835},{"bar":101,"price":1.0835},{"bar":102,"price":1.0822},{"bar":103,"price":1.0819},{"bar":107,"price":1.0819},{"bar":108,"price":1.0808},{"bar":112,"price":1.0808},{"bar":114,"price":1.0797},{"bar":115,"price":1.0795},{"bar":117,"price":1.0749},{"bar":118,"price":1.0748},{"bar":119,"price":1.0717},{"bar":120,"price":1.0705},{"bar":122,"price":1.0704},{"bar":123,"price":1.069},{"bar":124,"price":1.067},{"bar":125,"price":1.0668},{"bar":126,"price":1.0652},{"bar":127,"price":1.0652},{"bar":128,"price":1.0648},{"bar":129,"price":1.0648},{"bar":130,"price":1.0636},{"bar":131,"price":1.0636},{"bar":133,"price":1.063},{"bar":134,"price":1.0605},{"bar":137,"price":1.0605},{"bar":139,"price":1.0564},{"bar":140,"price":1.0557},{"bar":141,"price":1.0551},{"bar":142,"price":1.0531},{"bar":143,"price":1.0528},{"bar":144,"price":1.0513},{"bar":145,"price":1.049},{"bar":146,"price":1.0486},{"bar":147,"price":1.0483},{"bar":151,"price":1.0483},{"bar":152,"price":1.0471},{"bar":154,"price":1.047},{"bar":155,"price":1.046},{"bar":156,"price":1.0458},{"bar":157,"price":1.0456},{"bar":158,"price":1.0451},{"bar":159,"price":1.0448},{"bar":160,"price":1.044},{"bar":161,"price":1.044},{"bar":162,"price":1.0428},{"bar":165,"price":1.0395},{"bar":169,"price":1.0395},{"bar":170,"price":1.0416},{"bar":171,"price":1.0418},{"bar":174,"price":1.0418}
],
"levels":[
{"price":1.09666,"kind":"thin"},{"price":1.09545,"kind":"pink"},{"price":1.09437,"kind":"solid"},{"price":1.0736,"kind":"soft"},{"price":1.063,"kind":"soft"},{"price":1.0535,"kind":"soft"},{"price":1.0515,"kind":"soft"},{"price":1.04072,"kind":"ext"}
],
"notes":[
{"bar":215.3,"price":1.0984,"text":"KIJUN - 1 jour","tone":"red"},{"bar":215.3,"price":1.0971,"text":"Tenkan - 1 jour","tone":"red"},{"bar":215.3,"price":1.0961,"text":"SSB - 1 jour","tone":"red"},{"bar":215.3,"price":1.0753,"text":"Kijun 1.0739 - 1 mois","tone":"red"},{"bar":215.3,"price":1.0647,"text":"KIJUN 1.0632 - 1 semaine","tone":"red"},{"bar":215.3,"price":1.0553,"text":"EXT SSB 1.0538 - 1 mois","tone":"red"},{"bar":215.3,"price":1.0531,"text":"1.0517 - 1 semaine","tone":"red"},{"bar":215.3,"price":1.0425,"text":"EXT SSB 1.041 - 1 mois","tone":"green"}
],
"boxes":[
{"bar":217.2,"bar2":223.6,"center":220.2,"top":1.0471,"bottom":1.0451,"mid":1.0461,"text":"1.0463","tone":"ssb"},
{"bar":217.2,"bar2":223.6,"center":220.2,"top":1.0426,"bottom":1.0408,"mid":1.0419,"text":"1.0422","tone":"ssa"},
{"bar":217.2,"bar2":223.6,"center":220.2,"top":1.0443,"bottom":1.0421,"mid":1.0432,"text":"1.0434","tone":"last"}
],
"trend":[{"bar":174.1,"price":1.042},{"bar":199.4,"price":1.0615}],
"timeLabels":[
{"bar":2,"label":"19","major":false},{"bar":6,"label":"25","major":false},{"bar":11,"label":"Juin","major":true},{"bar":15,"label":"07","major":false},{"bar":19,"label":"11","major":false},{"bar":23,"label":"17","major":false},{"bar":27,"label":"23","major":false},{"bar":33,"label":"Juil.","major":true},{"bar":37,"label":"07","major":false},{"bar":41,"label":"13","major":false},{"bar":45,"label":"19","major":false},{"bar":49,"label":"23","major":false},{"bar":55,"label":"Août","major":true},{"bar":59,"label":"06","major":false},{"bar":63,"label":"12","major":false},{"bar":67,"label":"18","major":false},{"bar":71,"label":"24","major":false},{"bar":77,"label":"Sept.","major":true},{"bar":81,"label":"07","major":false},{"bar":85,"label":"13","major":false},{"bar":89,"label":"17","major":false},{"bar":93,"label":"23","major":false},{"bar":99,"label":"Oct.","major":true},{"bar":103,"label":"07","major":false},{"bar":107,"label":"13","major":false},{"bar":111,"label":"19","major":false},{"bar":115,"label":"25","major":false},{"bar":120,"label":"Nov.","major":true},{"bar":124,"label":"05","major":false},{"bar":128,"label":"11","major":false},{"bar":132,"label":"17","major":false},{"bar":136,"label":"23","major":false},{"bar":142,"label":"Déc.","major":true},{"bar":146,"label":"07","major":false},{"bar":150,"label":"13","major":false},{"bar":154,"label":"17","major":false},{"bar":158,"label":"23","major":false},{"bar":162,"label":"29","major":false},{"bar":165,"label":"2022","major":true},{"bar":169,"label":"07","major":false},{"bar":173,"label":"13","major":false},{"bar":177,"label":"19","major":false},{"bar":181,"label":"25","major":false},{"bar":186,"label":"Févr.","major":true},{"bar":190,"label":"07","major":false},{"bar":194,"label":"11","major":false},{"bar":198,"label":"17","major":false},{"bar":202,"label":"23","major":false},{"bar":206,"label":"Mars","major":true},{"bar":210,"label":"07","major":false},{"bar":214,"label":"11","major":false}
]
},
"vconcat":[
{
"width":1473,"height":48,
"view":{"stroke":null},
"resolve":{"scale":{"fill":"independent","color":"independent"}},
"layer":[
{"data":{"values":[{"slot":0,"slot2":32,"row":0,"row2":2},{"slot":0,"slot2":31,"row":2,"row2":6}]},
"mark":{"type":"rect","fill":"#f8f8f8"},
"encoding":{
"x":{"field":"slot","type":"quantitative","axis":null,"scale":{"zero":false,"nice":false,"domain":[0,1,2,3,4,5,6,7,8,9,10,11,12,13,14,15,16,17,18,19,20,21,22,23,24,25,26,27,28,29,30,31,32],"range":[0,5,6,10,15,19,41,45,47,49,51,53,55,59,92,126,153,171,215,227,244,300,317,367,384,434,451,494,512,646,663,799,1527]}},
"x2":{"field":"slot2"},
"y":{"field":"row","type":"quantitative","axis":null,"scale":{"zero":false,"nice":false,"domain":[0,1,2,3,4,5,6,7],"range":[0.5,15,26,31,37,41,45,48]}},
"y2":{"field":"row2"}}},
{"data":{"values":[{"slot":0,"slot2":32,"row":0},{"slot":0,"slot2":32,"row":2},{"slot":0,"slot2":31,"row":6}]},
"mark":{"type":"rule","color":"#d4d4d4","strokeWidth":1},
"encoding":{"x":{"field":"slot","type":"quantitative"},"x2":{"field":"slot2"},"y":{"field":"row","type":"quantitative"}}},
{"data":{"values":[{"slot":6,"row":2,"row2":6},{"slot":16,"row":2,"row2":6},{"slot":19,"row":2,"row2":6},{"slot":21,"row":2,"row2":6},{"slot":23,"row":2,"row2":6},{"slot":25,"row":2,"row2":6},{"slot":27,"row":2,"row2":6},{"slot":29,"row":2,"row2":6},{"slot":31,"row":2,"row2":6}]},
"mark":{"type":"rule","color":"#d4d4d4","strokeWidth":1},
"encoding":{"x":{"field":"slot","type":"quantitative"},"y":{"field":"row","type":"quantitative"},"y2":{"field":"row2"}}},
{"data":{"values":[{"slot":1,"slot2":3,"swatch":"green","row":3,"row2":5},{"slot":3,"slot2":4,"swatch":"red","row":3,"row2":5},{"slot":7,"slot2":8,"swatch":"red2","row":3,"row2":5},{"slot":8,"slot2":9,"swatch":"black","row":3,"row2":5},{"slot":9,"slot2":10,"swatch":"blue","row":3,"row2":5},{"slot":10,"slot2":11,"swatch":"lime","row":3,"row2":5},{"slot":11,"slot2":12,"swatch":"cyan","row":3,"row2":5}]},
"mark":{"type":"rect"},
"encoding":{"x":{"field":"slot","type":"quantitative"},"x2":{"field":"slot2"},"y":{"field":"row","type":"quantitative"},"y2":{"field":"row2"},
"fill":{"field":"swatch","type":"nominal","legend":null,"scale":{"domain":["green","red","red2","black","blue","lime","cyan"],"range":["#55cc55","#e06666","#ee1111","#000000","#1111ee","#11dd11","#22eeff"]}}}},
{"data":{"values":[
{"slot":2,"row":1,"text":"Spot EUR/CHF","tone":"head"},{"slot":14,"row":1,"text":"1 jour","tone":"head"},{"slot":15,"row":1,"text":"1.0434 (-0.04%)","tone":"price"},{"slot":18,"row":1,"text":"15/01/2022 12:21:12","tone":"head"}]},
"mark":{"type":"text","align":"left","baseline":"middle","fontSize":11,"fontWeight":"bold"},
"encoding":{"x":{"field":"slot","type":"quantitative"},"y":{"field":"row","type":"quantitative"},"text":{"field":"text"},
"color":{"field":"tone","type":"nominal","legend":null,"scale":{"domain":["head","price"],"range":["#484848","#b02020"]}}}},
{"data":{"values":[
{"slot":5,"row":4,"text":"Prix"},{"slot":13,"row":4,"text":"Ichimoku (9 26 52)"},{"slot":17,"row":4,"text":"SMA (200)"},{"slot":20,"row":4,"text":"SMA (100)"},{"slot":22,"row":4,"text":"SMA (50)"},{"slot":24,"row":4,"text":"SMA (20)"},{"slot":26,"row":4,"text":"SMA (7)"},{"slot":28,"row":4,"text":"Bandes de Bollinger (20 2)"},{"slot":30,"row":4,"text":"Bandes de Bollinger (6 2.1)"}]},
"mark":{"type":"text","align":"left","baseline":"middle","fontSize":11,"color":"#606060"},
"encoding":{"x":{"field":"slot","type":"quantitative"},"y":{"field":"row","type":"quantitative"},"text":{"field":"text"}}}
]
},
{
"width":1473,"height":655,
"resolve":{"scale":{"color":"independent","fill":"independent","stroke":"independent","opacity":"independent","strokeWidth":"independent"}},
"layer":[
{"data":{"values":[{"bar":-0.44,"bar2":207.2,"top":1.0335,"bottom":1.0283}]},
"mark":{"type":"rect","fill":"#eff8ed","stroke":"#a8e6a0","strokeWidth":1},
"encoding":{"x":{"field":"bar","type":"quantitative","scale":{"domain":[-0.517,217.09],"nice":false,"zero":false,"padding":0},"axis":null},"x2":{"field":"bar2"},
"y":{"field":"top","type":"quantitative","scale":{"domain":[1.02649,1.11156],"zero":false,"nice":false},
"axis":{"orient":"right","title":null,"grid":false,"values":[1.03,1.035,1.04,1.045,1.05,1.055,1.06,1.065,1.07,1.075,1.08,1.085,1.09,1.095,1.1,1.105,1.11],"format":"~g","tickSize":3,"tickColor":"#cccccc","domainColor":"#cccccc","labelColor":"#555555","labelFontSize":11,"labelPadding":2,"labelFlush":false,"labelOverlap":false,"labelFontWeight":{"condition":{"test":"datum.value===1.1||datum.value===1.05","value":"bold"},"value":"normal"}}},
"y2":{"field":"bottom"}}},
{"data":{"name":"kumo"},"transform":[{"filter":"datum.ssa>=datum.ssb"}],
"mark":{"type":"area","color":"#00ffff","opacity":0.15},
"encoding":{"x":{"field":"bar","type":"quantitative"},"y":{"field":"ssa","type":"quantitative"},"y2":{"field":"ssb"}}},
{"data":{"name":"kumo"},"transform":[{"filter":"datum.ssa<=datum.ssb"}],
"mark":{"type":"area","color":"#00ff00","opacity":0.086},
"encoding":{"x":{"field":"bar","type":"quantitative"},"y":{"field":"ssa","type":"quantitative"},"y2":{"field":"ssb"}}},
{"data":{"name":"candles"},"mark":{"type":"rule","strokeWidth":1.2},
"encoding":{"x":{"field":"bar","type":"quantitative"},"y":{"field":"low","type":"quantitative"},"y2":{"field":"high"},
"color":{"condition":{"test":"datum.close>=datum.open","value":"#14a014"},"value":"#b8283c"}}},
{"data":{"name":"candles"},"mark":{"type":"bar","size":4,"strokeWidth":1},
"encoding":{"x":{"field":"bar","type":"quantitative"},"y":{"field":"open","type":"quantitative"},"y2":{"field":"close"},
"fill":{"condition":{"test":"datum.close>=datum.open","value":"#44cf44"},"value":"#e46060"},
"stroke":{"condition":{"test":"datum.close>=datum.open","value":"#14a014"},"value":"#b02a3a"}}},
{"data":{"name":"kumo"},"mark":{"type":"line","color":"#20e8f8","strokeWidth":1.2},
"encoding":{"x":{"field":"bar","type":"quantitative"},"y":{"field":"ssa","type":"quantitative"}}},
{"data":{"name":"kumo"},"mark":{"type":"line","color":"#10e010","strokeWidth":1.2},
"encoding":{"x":{"field":"bar","type":"quantitative"},"y":{"field":"ssb","type":"quantitative"}}},
{"data":{"name":"candles"},"transform":[{"filter":"isValid(datum.chikou)"}],"mark":{"type":"line","color":"#202020","strokeWidth":1.2},
"encoding":{"x":{"field":"bar","type":"quantitative"},"y":{"field":"chikou","type":"quantitative"}}},
{"data":{"name":"kijun"},"mark":{"type":"line","color":"#1414e6","strokeWidth":1.2},
"encoding":{"x":{"field":"bar","type":"quantitative"},"y":{"field":"price","type":"quantitative"}}},
{"data":{"name":"tenkan"},"mark":{"type":"line","color":"#f01424","strokeWidth":1.2},
"encoding":{"x":{"field":"bar","type":"quantitative"},"y":{"field":"price","type":"quantitative"}}},
{"data":{"name":"levels"},"mark":{"type":"rule"},
"encoding":{"y":{"field":"price","type":"quantitative"},
"color":{"field":"kind","type":"nominal","legend":null,"scale":{"domain":["thin","pink","solid","soft","ext"],"range":["#ff2030","#e85078","#ff0000","#ff3030","#4a9a4a"]}},
"opacity":{"field":"kind","type":"nominal","legend":null,"scale":{"domain":["thin","pink","solid","soft","ext"],"range":[0.7,0.7,1,0.6,1]}},
"strokeWidth":{"field":"kind","type":"nominal","legend":null,"scale":{"domain":["thin","pink","solid","soft","ext"],"range":[1.5,2,1.5,2,1]}}}},
{"data":{"values":[{"bar":-0.517,"bar2":217.09,"top":1.11156,"bottom":1.0662}]},
"mark":{"type":"rect","fill":"#0000c8","opacity":0.08},
"encoding":{"x":{"field":"bar","type":"quantitative"},"x2":{"field":"bar2"},"y":{"field":"top","type":"quantitative"},"y2":{"field":"bottom"}}},
{"data":{"values":[{"price":1.1115,"edge":"top"},{"price":1.0662,"edge":"bottom"}]},"mark":{"type":"rule"},
"encoding":{"y":{"field":"price","type":"quantitative"},
"color":{"field":"edge","type":"nominal","legend":null,"scale":{"domain":["top","bottom"],"range":["#9a9ae8","#5a5acc"]}},
"strokeWidth":{"field":"edge","type":"nominal","legend":null,"scale":{"domain":["top","bottom"],"range":[2,1.2]}}}},
{"data":{"values":[{"bar":184.1,"price":1.0567}]},
"mark":{"type":"point","filled":true,"shape":"M-1,0 A1,0.3 0 1,0 1,0 A1,0.3 0 1,0 -1,0 Z","size":12100,"fill":"#ffb080","fillOpacity":0.18,"stroke":"#f5a060","strokeWidth":1.2,"strokeOpacity":1},
"encoding":{"x":{"field":"bar","type":"quantitative"},"y":{"field":"price","type":"quantitative"}}},
{"data":{"name":"trend"},"mark":{"type":"line","color":"#111111","strokeWidth":1.2},
"encoding":{"x":{"field":"bar","type":"quantitative"},"y":{"field":"price","type":"quantitative"}}},
{"data":{"values":[{"bar":199.7,"price":1.0619}]},
"mark":{"type":"point","shape":"triangle-up","angle":49,"size":110,"filled":true,"fill":"white","stroke":"#111111","strokeWidth":1.2,"opacity":1},
"encoding":{"x":{"field":"bar","type":"quantitative"},"y":{"field":"price","type":"quantitative"}}},
{"data":{"values":[{"bar":167,"price":1.0322},{"bar":175.1,"price":1.0409}]},
"mark":{"type":"point","shape":"M0,-1 L1,0 L0.45,0 L0.45,1 L-0.45,1 L-0.45,0 L-1,0 Z","size":170,"filled":true,"fill":"#2f9a3a","stroke":"#143c14","strokeWidth":1.4,"opacity":1},
"encoding":{"x":{"field":"bar","type":"quantitative"},"y":{"field":"price","type":"quantitative"}}},
{"data":{"name":"notes"},"mark":{"type":"text","align":"right","baseline":"middle","fontSize":11},
"encoding":{"x":{"field":"bar","type":"quantitative"},"y":{"field":"price","type":"quantitative"},"text":{"field":"text"},
"color":{"field":"tone","type":"nominal","legend":null,"scale":{"domain":["red","green"],"range":["#e8344a","#2f9e2f"]}}}},
{"data":{"values":[{"bar":0.2,"price":1.0278,"text":"Données temps réel"}]},"mark":{"type":"text","align":"left","baseline":"middle","fontSize":10,"color":"#222222"},
"encoding":{"x":{"field":"bar","type":"quantitative"},"y":{"field":"price","type":"quantitative"},"text":{"field":"text"}}},
{"data":{"name":"boxes"},"mark":{"type":"rect","clip":false,"strokeWidth":1.2},
"encoding":{"x":{"field":"bar","type":"quantitative"},"x2":{"field":"bar2"},"y":{"field":"top","type":"quantitative"},"y2":{"field":"bottom"},
"fill":{"field":"tone","type":"nominal","legend":null,"scale":{"domain":["ssb","ssa","last"],"range":["#ffffff","#ffffff","#f8cf10"]}},
"stroke":{"field":"tone","type":"nominal","legend":null,"scale":{"domain":["ssb","ssa","last"],"range":["#cccccc","#cccccc","#d8a810"]}}}},
{"data":{"name":"boxes"},"mark":{"type":"text","align":"center","baseline":"middle","fontSize":11,"fontWeight":"bold"},
"encoding":{"x":{"field":"center","type":"quantitative"},"y":{"field":"mid","type":"quantitative"},"text":{"field":"text"},
"color":{"field":"tone","type":"nominal","legend":null,"scale":{"domain":["ssb","ssa","last"],"range":["#22ee22","#22eeee","#333333"]}}}}
]
},
{
"width":1473,"height":108,
"resolve":{"scale":{"fill":"independent","stroke":"independent"}},
"layer":[
{"data":{"name":"candles"},"mark":{"type":"bar","size":4,"strokeWidth":1},
"encoding":{"x":{"field":"bar","type":"quantitative","scale":{"domain":[-0.517,217.09],"nice":false,"zero":false,"padding":0},"axis":null},
"y":{"field":"volume","type":"quantitative","scale":{"domain":[-8654,95192],"nice":false,"zero":false},
"axis":{"orient":"right","title":null,"grid":false,"values":[0,50000],"format":"d","tickSize":3,"tickColor":"#cccccc","domainColor":"#cccccc","labelColor":"#555555","labelFontSize":11,"labelPadding":2}},
"y2":{"datum":0},
"fill":{"condition":{"test":"datum.volDir==='u'","value":"#44cf44"},"value":"#e46060"},
"stroke":{"condition":{"test":"datum.volDir==='u'","value":"#14a014"},"value":"#b02a3a"}}},
{"data":{"values":[{"bar":-0.44,"bar2":8.05,"top":93266,"bottom":76920,"part":"button"},{"bar":0.22,"bar2":0.96,"top":90381,"bottom":80766,"part":"up"},{"bar":0.96,"bar2":1.7,"top":90381,"bottom":80766,"part":"down"}]},
"mark":{"type":"rect"},
"encoding":{"x":{"field":"bar","type":"quantitative"},"x2":{"field":"bar2"},"y":{"field":"top","type":"quantitative"},"y2":{"field":"bottom"},
"fill":{"field":"part","type":"nominal","legend":null,"scale":{"domain":["button","up","down"],"range":["#f8f8f8","#55cc55","#e06666"]}},
"stroke":{"field":"part","type":"nominal","legend":null,"scale":{"domain":["button","up","down"],"range":["#d4d4d4","#55cc55","#e06666"]}}}},
{"data":{"values":[{"bar":2.3,"volume":84612,"text":"Volume"}]},"mark":{"type":"text","align":"left","baseline":"middle","fontSize":11,"color":"#606060"},
"encoding":{"x":{"field":"bar","type":"quantitative"},"y":{"field":"volume","type":"quantitative"},"text":{"field":"text"}}},
{"data":{"values":[{"bar":217.2,"bar2":222.7,"top":45190,"bottom":29230}]},"mark":{"type":"rect","fill":"white","stroke":"#d0d0d0"},
"encoding":{"x":{"field":"bar","type":"quantitative"},"x2":{"field":"bar2"},"y":{"field":"top","type":"quantitative"},"y2":{"field":"bottom"}}},
{"data":{"values":[{"bar":219.9,"volume":37500,"text":"38414"}]},"mark":{"type":"text","align":"center","baseline":"middle","fontSize":11,"color":"#e46060"},
"encoding":{"x":{"field":"bar","type":"quantitative"},"y":{"field":"volume","type":"quantitative"},"text":{"field":"text"}}}
]
},
{
"width":1473,"height":3,
"data":{"values":[{"bar":8.9,"bar2":216.5}]},
"mark":{"type":"rect","fill":"#000000"},
"encoding":{"x":{"field":"bar","type":"quantitative","scale":{"domain":[-0.517,217.09],"nice":false,"zero":false},"axis":null},"x2":{"field":"bar2"}}
},
{
"width":1473,"height":18,
"layer":[
{"data":{"name":"timeLabels"},"transform":[{"filter":"!datum.major"}],"mark":{"type":"text","baseline":"middle","fontSize":11,"color":"#555555"},
"encoding":{"x":{"field":"bar","type":"quantitative","scale":{"domain":[-0.517,217.09],"nice":false,"zero":false},
"axis":{"orient":"top","title":null,"grid":false,"labels":false,"domain":false,"tickSize":3,"tickColor":"#cccccc","values":[2,6,11,15,19,23,27,33,37,41,45,49,55,59,63,67,71,77,81,85,89,93,99,103,107,111,115,120,124,128,132,136,142,146,150,154,158,162,165,169,173,177,181,186,190,194,198,202,206,210,214]}},
"text":{"field":"label"}}},
{"data":{"name":"timeLabels"},"transform":[{"filter":"datum.major"}],"mark":{"type":"text","baseline":"middle","fontSize":11,"fontWeight":"bold","color":"#555555"},
"encoding":{"x":{"field":"bar","type":"quantitative"},"text":{"field":"label"}}},
{"data":{"values":[{"bar":-0.44,"bar2":8.7}]},"mark":{"type":"rect","fill":"#f8f8f8","fillOpacity":0.55,"stroke":"#d0d0d0"},
"encoding":{"x":{"field":"bar","type":"quantitative"},"x2":{"field":"bar2"}}},
{"data":{"values":[{"bar":0.22,"bar2":1.7,"row":1,"row2":2}]},"mark":{"type":"rect","fill":"#000000"},
"encoding":{"x":{"field":"bar","type":"quantitative"},"x2":{"field":"bar2"},"y":{"field":"row","type":"quantitative","axis":null,"scale":{"zero":false,"nice":false,"domain":[0,1,2,3],"range":[0,3,12,18]}},"y2":{"field":"row2"}}},
{"data":{"values":[{"bar":2.5,"text":"CCI (20)"}]},"mark":{"type":"text","align":"left","baseline":"middle","fontSize":11,"color":"#606060"},
"encoding":{"x":{"field":"bar","type":"quantitative"},"text":{"field":"text"}}}
]
}
]
}
